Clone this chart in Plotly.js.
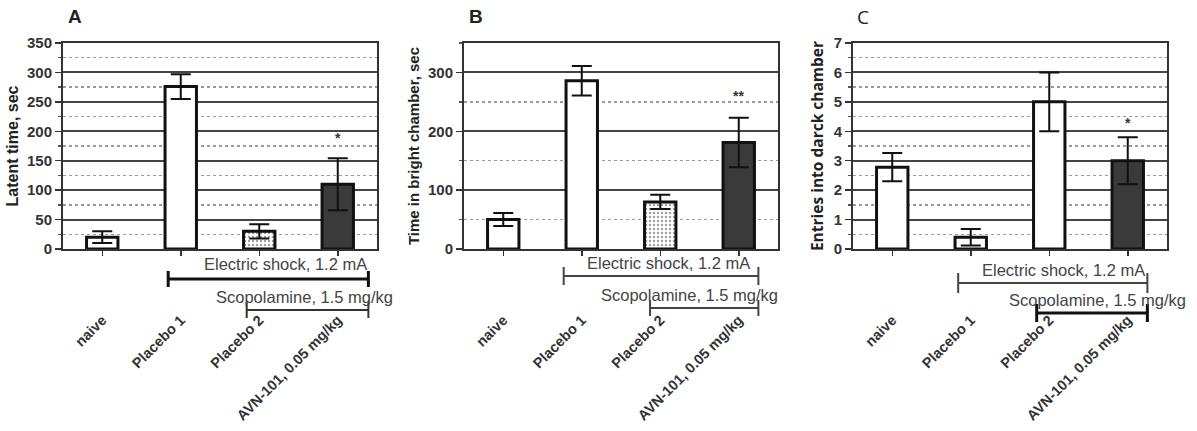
<!DOCTYPE html>
<html>
<head>
<meta charset="utf-8">
<script src="https://cdn.plot.ly/plotly-3.0.1.min.js"></script>
<style>html,body{margin:0;padding:0;background:#fff}#chart{width:1197px;height:431px}</style>
</head>
<body>
<div id="chart"></div>
<script>
// ---- data ----
const categories = ['naive', 'Placebo 1', 'Placebo 2', 'AVN-101, 0.05 mg/kg'];
const latentMean = [20, 276, 30, 110];
const latentErr = [10, 21, 12, 44];
const latentSig = ['', '', '', '*'];
const brightMean = [50, 286, 80, 181];
const brightErr = [11, 25, 12, 42];
const brightSig = ['', '', '', '**'];
const entriesMean = [2.78, 0.4, 5.0, 3.0];
const entriesErr = [0.48, 0.28, 1.0, 0.8];
const entriesSig = ['', '', '', '*'];
const panelLetters = ['A', 'B', 'C'];
const yTitles = ['Latent time, sec', 'Time in bright chamber, sec', 'Entries into darck chamber'];
const shockLabel = 'Electric shock, 1.2 mA';
const scopLabel = 'Scopolamine, 1.5 mg/kg';

// ---- styling ----
const W = 1197, H = 431;
const py = p => 1 - p / H;
const px = p => p / W;
const FONT = 'Liberation Sans, Arial, sans-serif';
const fills = ['#ffffff', '#ffffff', '#ffffff', '#3a3a3a'];

function barTrace(mean, err, xa, ya, patterned) {
  return {
    type: 'bar', x: categories, y: mean, xaxis: xa, yaxis: ya, width: 0.4,
    marker: {
      color: fills, line: {color: '#111', width: 3},
      pattern: patterned ? {shape: ['', '', '.', ''], fgcolor: '#6a6a6a', bgcolor: '#ffffff', size: 4, solidity: 0.3, fillmode: 'overlay'} : undefined
    },
    error_y: {type: 'data', array: err, visible: true, color: '#111', thickness: 2, width: 10},
    showlegend: false, hoverinfo: 'skip'
  };
}

const data = [
  barTrace(latentMean, latentErr, 'x', 'y', true),
  barTrace(brightMean, brightErr, 'x2', 'y2', true),
  barTrace(entriesMean, entriesErr, 'x3', 'y3', false)
];

const yDom = [py(249), py(43)];
const xDoms = [[px(63), px(377)], [px(464), px(778)], [px(853), px(1167)]];

function xAxis(dom, anchor) {
  return {
    domain: dom, anchor: anchor, type: 'category', range: [-0.5, 3.5],
    showline: true, mirror: true, linecolor: '#333', linewidth: 2,
    ticks: 'outside', ticklen: 5, tickwidth: 1.5, tickcolor: '#333',
    tickangle: -45, ticklabelstandoff: 50,
    tickfont: {family: FONT, size: 14.5, color: '#333', weight: 'bold'},
    showgrid: false, zeroline: false, fixedrange: true
  };
}
function yAxis(anchor, range, dtick, minorDtick, title, standoff, titleFont) {
  return {
    domain: yDom, anchor: anchor, range: range, dtick: dtick,
    showline: true, mirror: true, linecolor: '#333', linewidth: 2,
    ticks: 'outside', ticklen: 6, tickwidth: 1.5, tickcolor: '#333',
    tickfont: {family: FONT, size: 15, color: '#333', weight: 'bold'},
    showgrid: true, gridcolor: '#444', gridwidth: 2, zeroline: false,
    minor: {dtick: minorDtick, showgrid: true, gridcolor: '#9a9a9a', griddash: 'dot', gridwidth: 1.5,
            ticks: 'outside', ticklen: 3, tickcolor: '#555'},
    title: {text: title, standoff: standoff, font: titleFont},
    fixedrange: true
  };
}

const layout = {
  width: W, height: H, margin: {l: 0, r: 0, t: 0, b: 0},
  paper_bgcolor: '#fff', plot_bgcolor: '#fff', showlegend: false,
  xaxis: xAxis(xDoms[0], 'y'),
  xaxis2: xAxis(xDoms[1], 'y2'),
  xaxis3: xAxis(xDoms[2], 'y3'),
  yaxis: yAxis('x', [0, 350], 50, 25, yTitles[0], 4, {family: FONT, size: 16, color: '#222', weight: 'bold'}),
  yaxis2: yAxis('x2', [0, 350], 100, 50, yTitles[1], 5, {family: FONT, size: 15, color: '#222', weight: 'bold'}),
  yaxis3: yAxis('x3', [0, 7], 1, 0.5, yTitles[2], 6,
                {family: 'Open Sans, Liberation Sans, sans-serif', size: 15.5, color: '#222', weight: 'bold'}),
  annotations: [], shapes: []
};

// panel letters
const letterX = [75, 476, 863];
panelLetters.forEach((t, i) => {
  layout.annotations.push({
    text: t, xref: 'paper', yref: 'paper', x: px(letterX[i]), y: py(17),
    xanchor: 'center', yanchor: 'middle', showarrow: false,
    font: {family: i === 2 ? 'Open Sans, sans-serif' : FONT, size: 19, color: '#222', weight: i === 2 ? 'normal' : 'bold'}
  });
});

// significance marks
[[latentMean, latentErr, latentSig, 'x', 'y', 20],
 [brightMean, brightErr, brightSig, 'x2', 'y2', 22],
 [entriesMean, entriesErr, entriesSig, 'x3', 'y3', 14]].forEach(([m, e, s, xa, ya, sh]) => {
  s.forEach((t, i) => {
    if (!t) return;
    layout.annotations.push({
      text: t, xref: xa, yref: ya, x: categories[i], y: m[i] + e[i],
      yshift: sh, showarrow: false, xanchor: 'center', yanchor: 'middle',
      font: {family: FONT, size: 14, color: '#333', weight: 'bold'}
    });
  });
});

// treatment brackets
const brackets = [
  {xa: 'x', s0: 0.84, s1: 3.39, sy: 279, sh: 8, stx: 2.34, sty: 264, sw: 3, sc: '#111',
   c0: 1.84, cy: 310, ch: 8, ctx: 2.58, cty: 297, cw: 2, cc: '#333'},
  {xa: 'x2', s0: 0.77, s1: 3.25, sy: 276, sh: 9, stx: 2.11, sty: 263, sw: 2, sc: '#444',
   c0: 1.87, cy: 308, ch: 8, ctx: 2.37, cty: 295, cw: 2, cc: '#444'},
  {xa: 'x3', s0: 0.84, s1: 3.25, sy: 283, sh: 10, stx: 2.18, sty: 270, sw: 2, sc: '#444',
   c0: 1.84, cy: 313, ch: 9, ctx: 2.61, cty: 300, cw: 3, cc: '#111'}
];
brackets.forEach(b => {
  const line = (x0, x1, y0, y1, w, c) => layout.shapes.push({
    type: 'line', xref: b.xa, yref: 'paper', x0: x0, x1: x1, y0: py(y0), y1: py(y1),
    line: {color: c, width: w}
  });
  line(b.s0, b.s1, b.sy, b.sy, b.sw, b.sc);
  line(b.s0, b.s0, b.sy - b.sh, b.sy + b.sh, b.sw, b.sc);
  line(b.s1, b.s1, b.sy - b.sh, b.sy + b.sh, b.sw, b.sc);
  line(b.c0, b.s1, b.cy, b.cy, b.cw, b.cc);
  line(b.c0, b.c0, b.cy - b.ch, b.cy + b.ch, b.cw, b.cc);
  line(b.s1, b.s1, b.cy - b.ch, b.cy + b.ch, b.cw, b.cc);
  layout.annotations.push({text: shockLabel, xref: b.xa, yref: 'paper', x: b.stx, y: py(b.sty),
    xanchor: 'center', yanchor: 'middle', showarrow: false,
    font: {family: FONT, size: 16.5, color: '#444'}});
  layout.annotations.push({text: scopLabel, xref: b.xa, yref: 'paper', x: b.ctx, y: py(b.cty),
    xanchor: 'center', yanchor: 'middle', showarrow: false,
    font: {family: FONT, size: 16.5, color: '#444'}});
});

Plotly.newPlot('chart', data, layout, {staticPlot: true, displayModeBar: false});
</script>
</body>
</html>
